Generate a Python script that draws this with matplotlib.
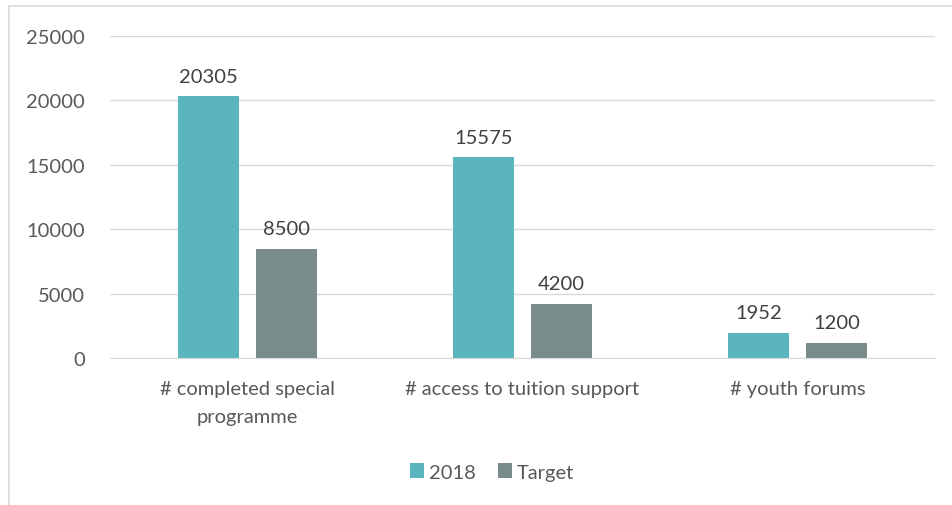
import numpy as np
import matplotlib.pyplot as plt
from matplotlib.patches import Rectangle

categories = ["# completed special\nprogramme", "# access to tuition support", "# youth forums"]
series_names = ["2018", "Target"]
values_2018 = [20305, 15575, 1952]
values_target = [8500, 4200, 1200]
y_ticks = [0, 5000, 10000, 15000, 20000, 25000]

colors = ["#5BB5BF", "#7A8B8C"]
plt.rcParams["font.family"] = ["Lato", "DejaVu Sans"]
fs = 14.5

fig = plt.figure(figsize=(9.52, 5.06), dpi=100)
# light chart border, running off the right/bottom edge
fig.patches.append(Rectangle((9 / 952, -0.1), 1.2, 1 - 7 / 506 + 0.1,
                             transform=fig.transFigure, fill=False,
                             edgecolor="#D9D9D9", linewidth=1.2))

ax = fig.add_axes([110 / 952, 1 - 359 / 506, 825 / 952, 322 / 506])
x = np.arange(len(categories))
w = 0.225
off = 0.142
for vals, dx, c, name in [(values_2018, -off, colors[0], series_names[0]),
                          (values_target, off, colors[1], series_names[1])]:
    bars = ax.bar(x + dx, vals, width=w, color=c, label=name, zorder=3)
    for b, v in zip(bars, vals):
        ax.text(b.get_x() + b.get_width() / 2, v + 900, str(v),
                ha="center", va="bottom", fontsize=fs, color="#404040")

ax.set_xlim(-0.5, 2.5)
ax.set_ylim(0, 25000)
ax.set_yticks(y_ticks)
ax.set_yticklabels([str(t) for t in y_ticks])
ax.set_xticks(x)
ax.set_xticklabels(categories, linespacing=1.75)
ax.tick_params(axis="both", length=0, labelsize=fs, labelcolor="#595959")
ax.tick_params(axis="y", pad=18)
ax.tick_params(axis="x", pad=16)
ax.grid(axis="y", color="#D9D9D9", linewidth=1, zorder=0)
for s in ["top", "right", "left"]:
    ax.spines[s].set_visible(False)
ax.spines["bottom"].set_color("#D9D9D9")
ax.spines["bottom"].set_zorder(4)

leg = fig.legend(loc="center", bbox_to_anchor=(492 / 952, 1 - 473 / 506), ncol=2,
                 frameon=False, fontsize=fs, handlelength=0.7, handleheight=0.7,
                 handletextpad=0.25, columnspacing=1.1)
for t in leg.get_texts():
    t.set_color("#595959")

fig.savefig("out.png", dpi=100)
